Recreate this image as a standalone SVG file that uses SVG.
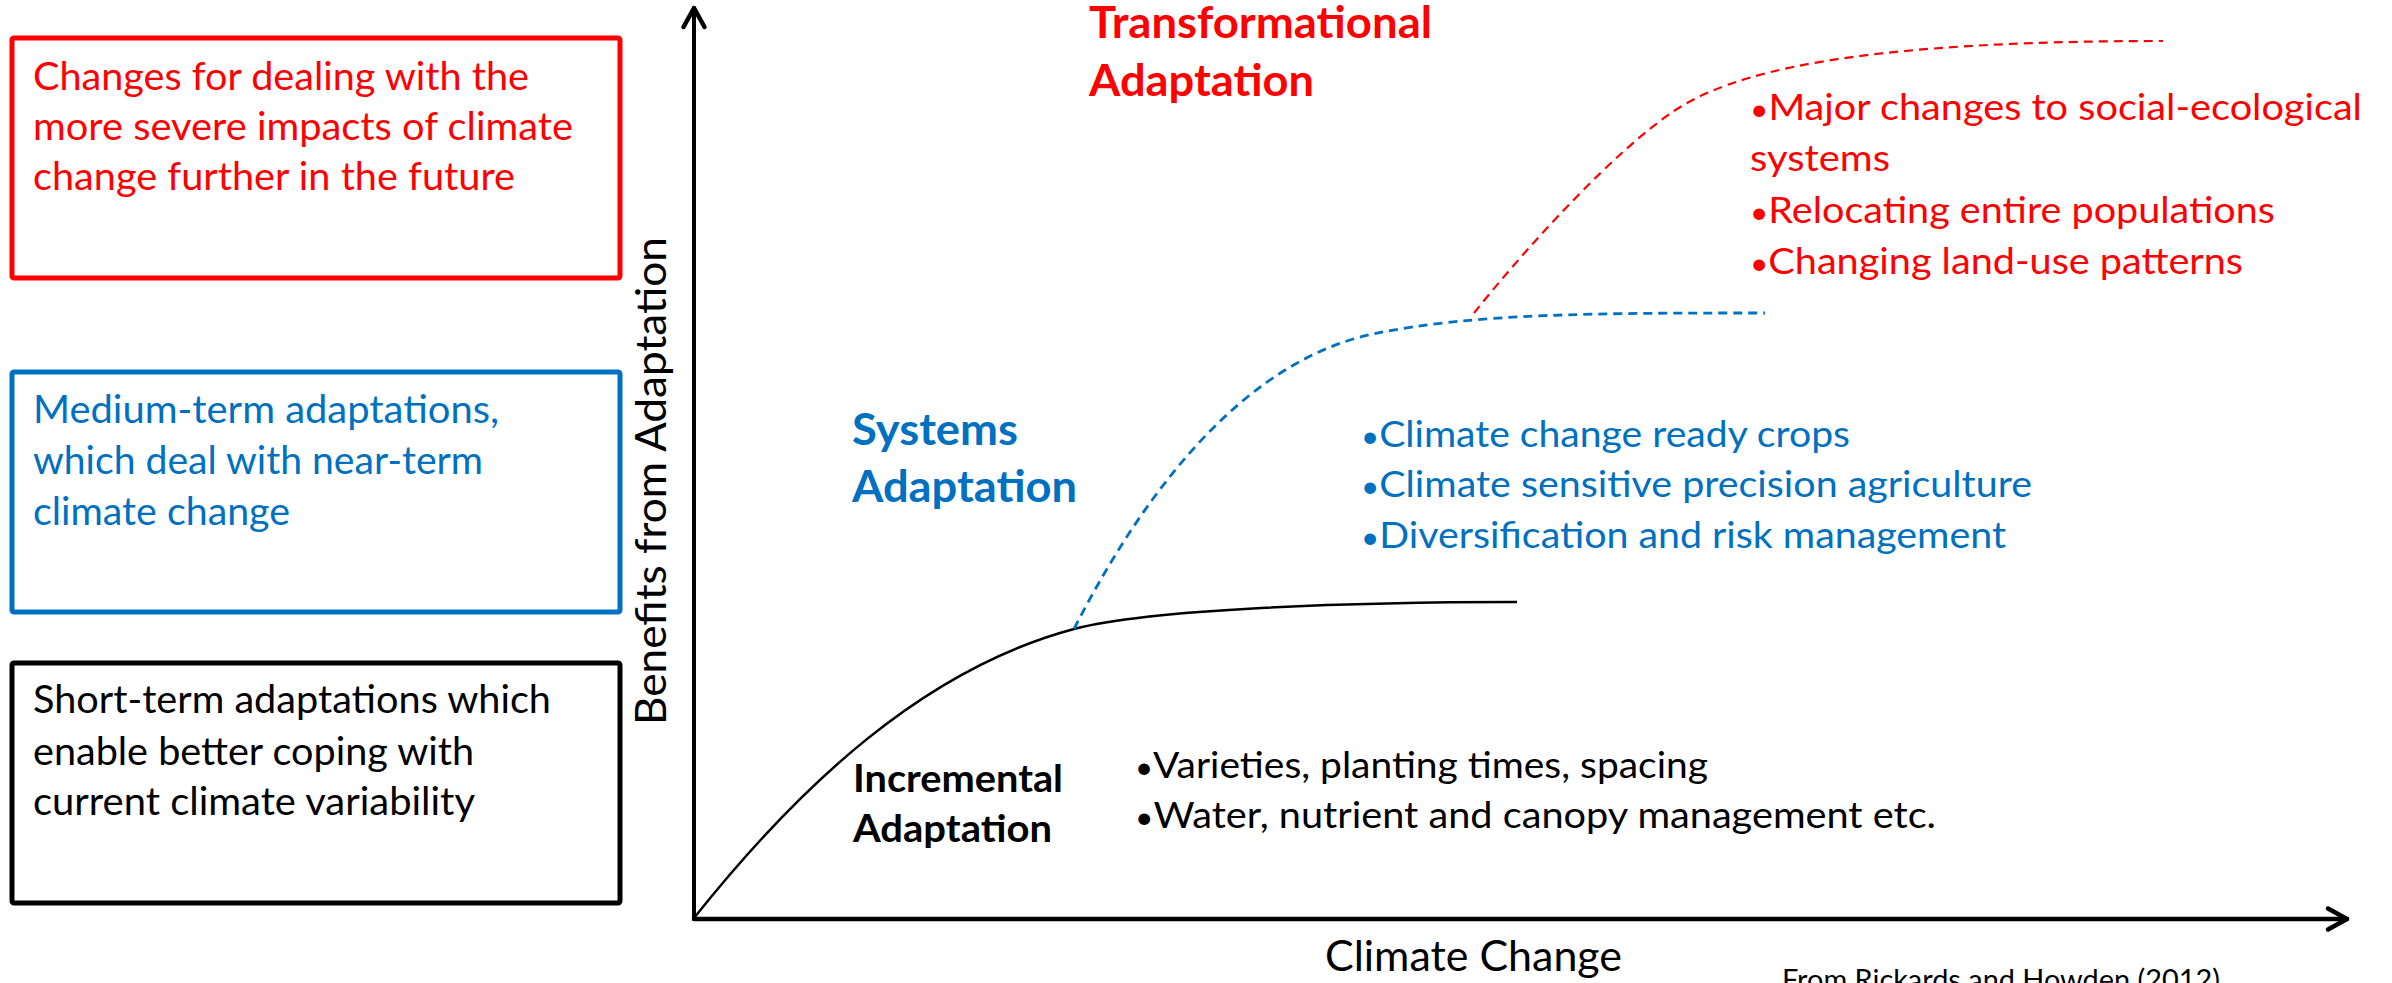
<svg xmlns="http://www.w3.org/2000/svg" width="2392" height="983" viewBox="0 0 2392 983">
<style>
.t{font-family:Lato,"Open Sans","Liberation Sans",sans-serif;}
.b{font-weight:bold;}
.red{fill:#FF0000;}
.blue{fill:#0070C0;}
.blk{fill:#000000;}
.box{fill:#FFFFFF;stroke-width:5;}
.axis{fill:none;stroke:#000;stroke-linecap:round;}
.bul{font-size:30px;}
</style>
<defs>
<marker id="chev" viewBox="-24 -14 28 28" markerWidth="28" markerHeight="28" refX="0" refY="0" orient="auto" markerUnits="userSpaceOnUse">
<path d="M-19,-10.5 L0,0 L-19,10.5" fill="none" stroke="#000" stroke-width="4.5" stroke-linecap="round" stroke-linejoin="round"/>
</marker>
</defs>
<rect width="2392" height="983" fill="#FFFFFF"/>

<g id="box-transformational">
<rect class="box" x="12" y="38" width="608" height="240" rx="2" stroke="#FF0000"/>
<text class="t red" font-size="39" x="33" y="90" textLength="496" lengthAdjust="spacingAndGlyphs">Changes for dealing with the</text>
<text class="t red" font-size="39" x="33" y="140" textLength="540" lengthAdjust="spacingAndGlyphs">more severe impacts of climate</text>
<text class="t red" font-size="39" x="33" y="190" textLength="482" lengthAdjust="spacingAndGlyphs">change further in the future</text>
</g>

<g id="box-systems">
<rect class="box" x="12" y="372" width="608" height="240" rx="2" stroke="#0070C0"/>
<text class="t blue" font-size="39" x="33" y="423" textLength="466" lengthAdjust="spacingAndGlyphs">Medium-term adaptations,</text>
<text class="t blue" font-size="39" x="33" y="474" textLength="450" lengthAdjust="spacingAndGlyphs">which deal with near-term</text>
<text class="t blue" font-size="39" x="33" y="525" textLength="257" lengthAdjust="spacingAndGlyphs">climate change</text>
</g>

<g id="box-incremental">
<rect class="box" x="12" y="663" width="608" height="240" rx="2" stroke="#000000"/>
<text class="t blk" font-size="39" x="33" y="713" textLength="518" lengthAdjust="spacingAndGlyphs">Short-term adaptations which</text>
<text class="t blk" font-size="39" x="33" y="765" textLength="441" lengthAdjust="spacingAndGlyphs">enable better coping with</text>
<text class="t blk" font-size="39" x="33" y="815" textLength="442" lengthAdjust="spacingAndGlyphs">current climate variability</text>
</g>

<g id="axes">
<line class="axis" x1="694" y1="919" x2="694" y2="8" stroke-width="4" marker-end="url(#chev)"/>
<line class="axis" x1="694" y1="919" x2="2347" y2="919" stroke-width="4.5" marker-end="url(#chev)"/>
<text class="t blk" font-size="42.5" text-anchor="middle" transform="translate(666,481) rotate(-90)" textLength="488" lengthAdjust="spacingAndGlyphs">Benefits from Adaptation</text>
<text class="t blk" font-size="42" x="1325" y="971" textLength="297" lengthAdjust="spacingAndGlyphs">Climate Change</text>
</g>

<g id="connectors">
<path id="curve-incremental" d="M694,918 C800,785 924,669 1074,629 C1150,609 1350,602 1517,602" fill="none" stroke="#000" stroke-width="2.5"/>
<path id="curve-systems" d="M1074,629 C1150,480 1250,360 1373,334 C1473,313 1600,313 1765,313" fill="none" stroke="#0070C0" stroke-width="2.8" stroke-dasharray="9 6"/>
<path id="curve-transformational" d="M1474,313 C1534,238 1616,151 1671,113 C1730,72 1850,41 2163,41" fill="none" stroke="#FF0000" stroke-width="2.2" stroke-dasharray="9 6"/>
</g>

<g id="label-transformational">
<text class="t b red" font-size="43" x="1089" y="38" textLength="343" lengthAdjust="spacingAndGlyphs">Transformational</text>
<text class="t b red" font-size="43" x="1089" y="96" textLength="225" lengthAdjust="spacingAndGlyphs">Adaptation</text>
</g>

<g id="label-systems">
<text class="t b blue" font-size="43" x="852" y="445" textLength="166" lengthAdjust="spacingAndGlyphs">Systems</text>
<text class="t b blue" font-size="43" x="852" y="502" textLength="225" lengthAdjust="spacingAndGlyphs">Adaptation</text>
</g>

<g id="label-incremental">
<text class="t b blk" font-size="38" x="853" y="792" textLength="210" lengthAdjust="spacingAndGlyphs">Incremental</text>
<text class="t b blk" font-size="38" x="853" y="842" textLength="199" lengthAdjust="spacingAndGlyphs">Adaptation</text>
</g>

<g id="bullets-transformational">
<text class="t red" font-size="37.5" x="1750" y="120" textLength="612" lengthAdjust="spacingAndGlyphs"><tspan class="bul">•</tspan>Major changes to social-ecological</text>
<text class="t red" font-size="37.5" x="1750" y="171" textLength="140" lengthAdjust="spacingAndGlyphs">systems</text>
<text class="t red" font-size="37.5" x="1750" y="223" textLength="525" lengthAdjust="spacingAndGlyphs"><tspan class="bul">•</tspan>Relocating entire populations</text>
<text class="t red" font-size="37.5" x="1750" y="274" textLength="493" lengthAdjust="spacingAndGlyphs"><tspan class="bul">•</tspan>Changing land-use patterns</text>
</g>

<g id="bullets-systems">
<text class="t blue" font-size="37.5" x="1361" y="447" textLength="489" lengthAdjust="spacingAndGlyphs"><tspan class="bul">•</tspan>Climate change ready crops</text>
<text class="t blue" font-size="37.5" x="1361" y="497" textLength="671" lengthAdjust="spacingAndGlyphs"><tspan class="bul">•</tspan>Climate sensitive precision agriculture</text>
<text class="t blue" font-size="37.5" x="1361" y="548" textLength="645" lengthAdjust="spacingAndGlyphs"><tspan class="bul">•</tspan>Diversification and risk management</text>
</g>

<g id="bullets-incremental">
<text class="t blk" font-size="37.5" x="1135" y="778" textLength="573" lengthAdjust="spacingAndGlyphs"><tspan class="bul">•</tspan>Varieties, planting times, spacing</text>
<text class="t blk" font-size="37.5" x="1135" y="828" textLength="801" lengthAdjust="spacingAndGlyphs"><tspan class="bul">•</tspan>Water, nutrient and canopy management etc.</text>
</g>

<g id="citation">
<text class="t blk" font-size="28" x="1782" y="990" textLength="438" lengthAdjust="spacingAndGlyphs">From Rickards and Howden (2012)</text>
</g>
</svg>
